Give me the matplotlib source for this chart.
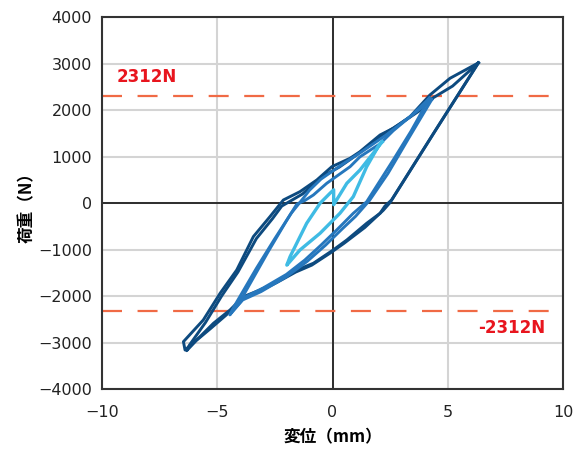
import matplotlib
matplotlib.use("Agg")
import matplotlib.pyplot as plt

plt.rcParams['font.family'] = ['Noto Sans CJK JP', 'DejaVu Sans']

# Hysteresis loops: displacement (mm) vs load (N)
outer_a_x = [6.32, 4.5, 2.56, 2.27, 2.06, 1.48, 0.62, 0.03, -0.83, -1.55, -2.27, -3.14, -3.86,
             -4.44, -5.16, -5.74, -6.39, -6.46, -5.6, -4.87, -4.15, -3.43, -2.71, -2.27, -2.13,
             -1.41, -0.68, -0.03, 0.76, 1.19, 2.06, 2.63, 3.36, 4.22, 5.09, 6.32]
outer_a_y = [3020, 1600, 72, -60, -215, -430, -789, -1004, -1290, -1434, -1649, -1864, -2008,
             -2294, -2581, -2868, -3155, -2976, -2510, -1935, -1434, -717, -287, -15, 71,
             250, 501, 787, 968, 1110, 1469, 1613, 1862, 2329, 2688, 3020]

outer_b_x = [6.32, 4.4, 2.5, 2.2, 1.4, 0.5, -0.1, -0.9, -1.6, -2.4, -3.2, -4.0, -4.6,
             -5.3, -5.9, -6.32, -6.2, -5.5, -4.8, -4.1, -3.3, -2.6, -2.2, -1.3, -0.5,
             0.3, 1.1, 2.0, 2.9, 3.8, 4.3, 5.2, 6.32]
outer_b_y = [3020, 1520, 20, -150, -520, -860, -1070, -1330, -1480, -1700, -1900, -2080, -2400,
             -2700, -2950, -3170, -3050, -2560, -1990, -1480, -760, -330, -60, 200, 560,
             780, 1060, 1420, 1700, 2000, 2250, 2520, 3020]

mid_a_x = [4.2, 3.4, 2.63, 1.48, 0.9, 0.47, 0.18, -0.5, -1.2, -2.0, -3.0, -3.8, -4.35,
           -4.2, -3.86, -2.8, -2.0, -1.55, -1.2, -0.83, -0.25, 0.76, 1.19, 2.06, 2.63, 3.4, 4.2]
mid_a_y = [2260, 1550, 931, 34, -215, -430, -574, -900, -1220, -1530, -1820, -2020, -2330,
           -2200, -1980, -1050, -380, -20, 60, 178, 430, 787, 1000, 1280, 1560, 1880, 2260]

mid_b_x = [4.3, 3.3, 2.4, 1.6, 1.0, 0.4, -0.3, -1.1, -2.0, -3.1, -3.9, -4.45,
           -4.3, -3.3, -2.5, -1.8, -1.25, -1.0, -0.5, 0.4, 1.3, 2.3, 3.3, 4.3]
mid_b_y = [2230, 1400, 640, 60, -280, -560, -900, -1250, -1580, -1900, -2080, -2400,
           -2250, -1400, -760, -220, 120, 280, 520, 830, 1120, 1460, 1840, 2230]

inner_x = [2.15, 2.06, 1.48, 0.9, 0.32, -0.54, -1.41, -1.98, -1.84, -1.12, -0.54, -0.11,
           0.05, 0.05, 0.62, 1.19, 2.15]
inner_y = [1320, 1290, 787, 143, -215, -645, -1004, -1330, -1148, -430, 0, 215,
           290, -30, 430, 716, 1320]

limit_load = 2312

x_ticks = [-10, -5, 0, 5, 10]
y_ticks = [-4000, -3000, -2000, -1000, 0, 1000, 2000, 3000, 4000]

dark = '#0d4a7f'
medium = '#2677bd'
light = '#3fbbe4'
red = '#e8151e'
dash_col = '#f06a45'

fig = plt.figure(figsize=(5.76, 4.5), dpi=100)
ax = fig.add_axes([0.1766, 0.1349, 0.8014, 0.8267])

ax.set_xlim(-10, 10)
ax.set_ylim(-4000, 4000)
ax.set_xticks(x_ticks)
ax.set_yticks(y_ticks)
ax.set_xticklabels([str(v).replace('-', '\u2212') for v in x_ticks],
                   family='DejaVu Sans', fontsize=11.5)
ax.set_yticklabels([str(v).replace('-', '\u2212') for v in y_ticks],
                   family='DejaVu Sans', fontsize=11.5)
ax.tick_params(length=0, colors='#222222')
ax.tick_params(axis='x', pad=11)
ax.tick_params(axis='y', pad=7)

ax.grid(True, color='#d4d4d4', linewidth=1.5)
ax.set_axisbelow(True)
ax.axhline(0, color='#111111', linewidth=1.2, zorder=1.5)
ax.axvline(0, color='#111111', linewidth=1.2, zorder=1.5)

for sp in ax.spines.values():
    sp.set_color('#333333')
    sp.set_linewidth(1.5)

ax.axhline(limit_load, color=dash_col, linewidth=1.6, dashes=(9, 7), zorder=2)
ax.axhline(-limit_load, color=dash_col, linewidth=1.6, dashes=(9, 7), zorder=2)

lw = 2.1
ax.plot(outer_a_x, outer_a_y, color=dark, linewidth=lw, zorder=3, solid_joinstyle='round')
ax.plot(outer_b_x, outer_b_y, color=dark, linewidth=lw, zorder=3, solid_joinstyle='round')
ax.plot(mid_a_x, mid_a_y, color=medium, linewidth=lw, zorder=4, solid_joinstyle='round')
ax.plot(mid_b_x, mid_b_y, color=medium, linewidth=lw, zorder=4, solid_joinstyle='round')
ax.plot(inner_x, inner_y, color=light, linewidth=lw + 0.3, zorder=5, solid_joinstyle='round')

ax.text(-9.35, 2716, f'{limit_load}N', color=red, fontsize=12, fontweight='bold',
        family='DejaVu Sans', ha='left', va='center')
ax.text(9.2, -2690, f'-{limit_load}N', color=red, fontsize=12, fontweight='bold',
        family='DejaVu Sans', ha='right', va='center')

ax.set_xlabel('変位（mm）', fontsize=12, fontweight='bold', labelpad=6)
ax.set_ylabel('荷重（N）', fontsize=12, fontweight='bold', va='center')
ax.yaxis.set_label_coords(-0.163, 0.5)

fig.savefig('out.png', dpi=100)
